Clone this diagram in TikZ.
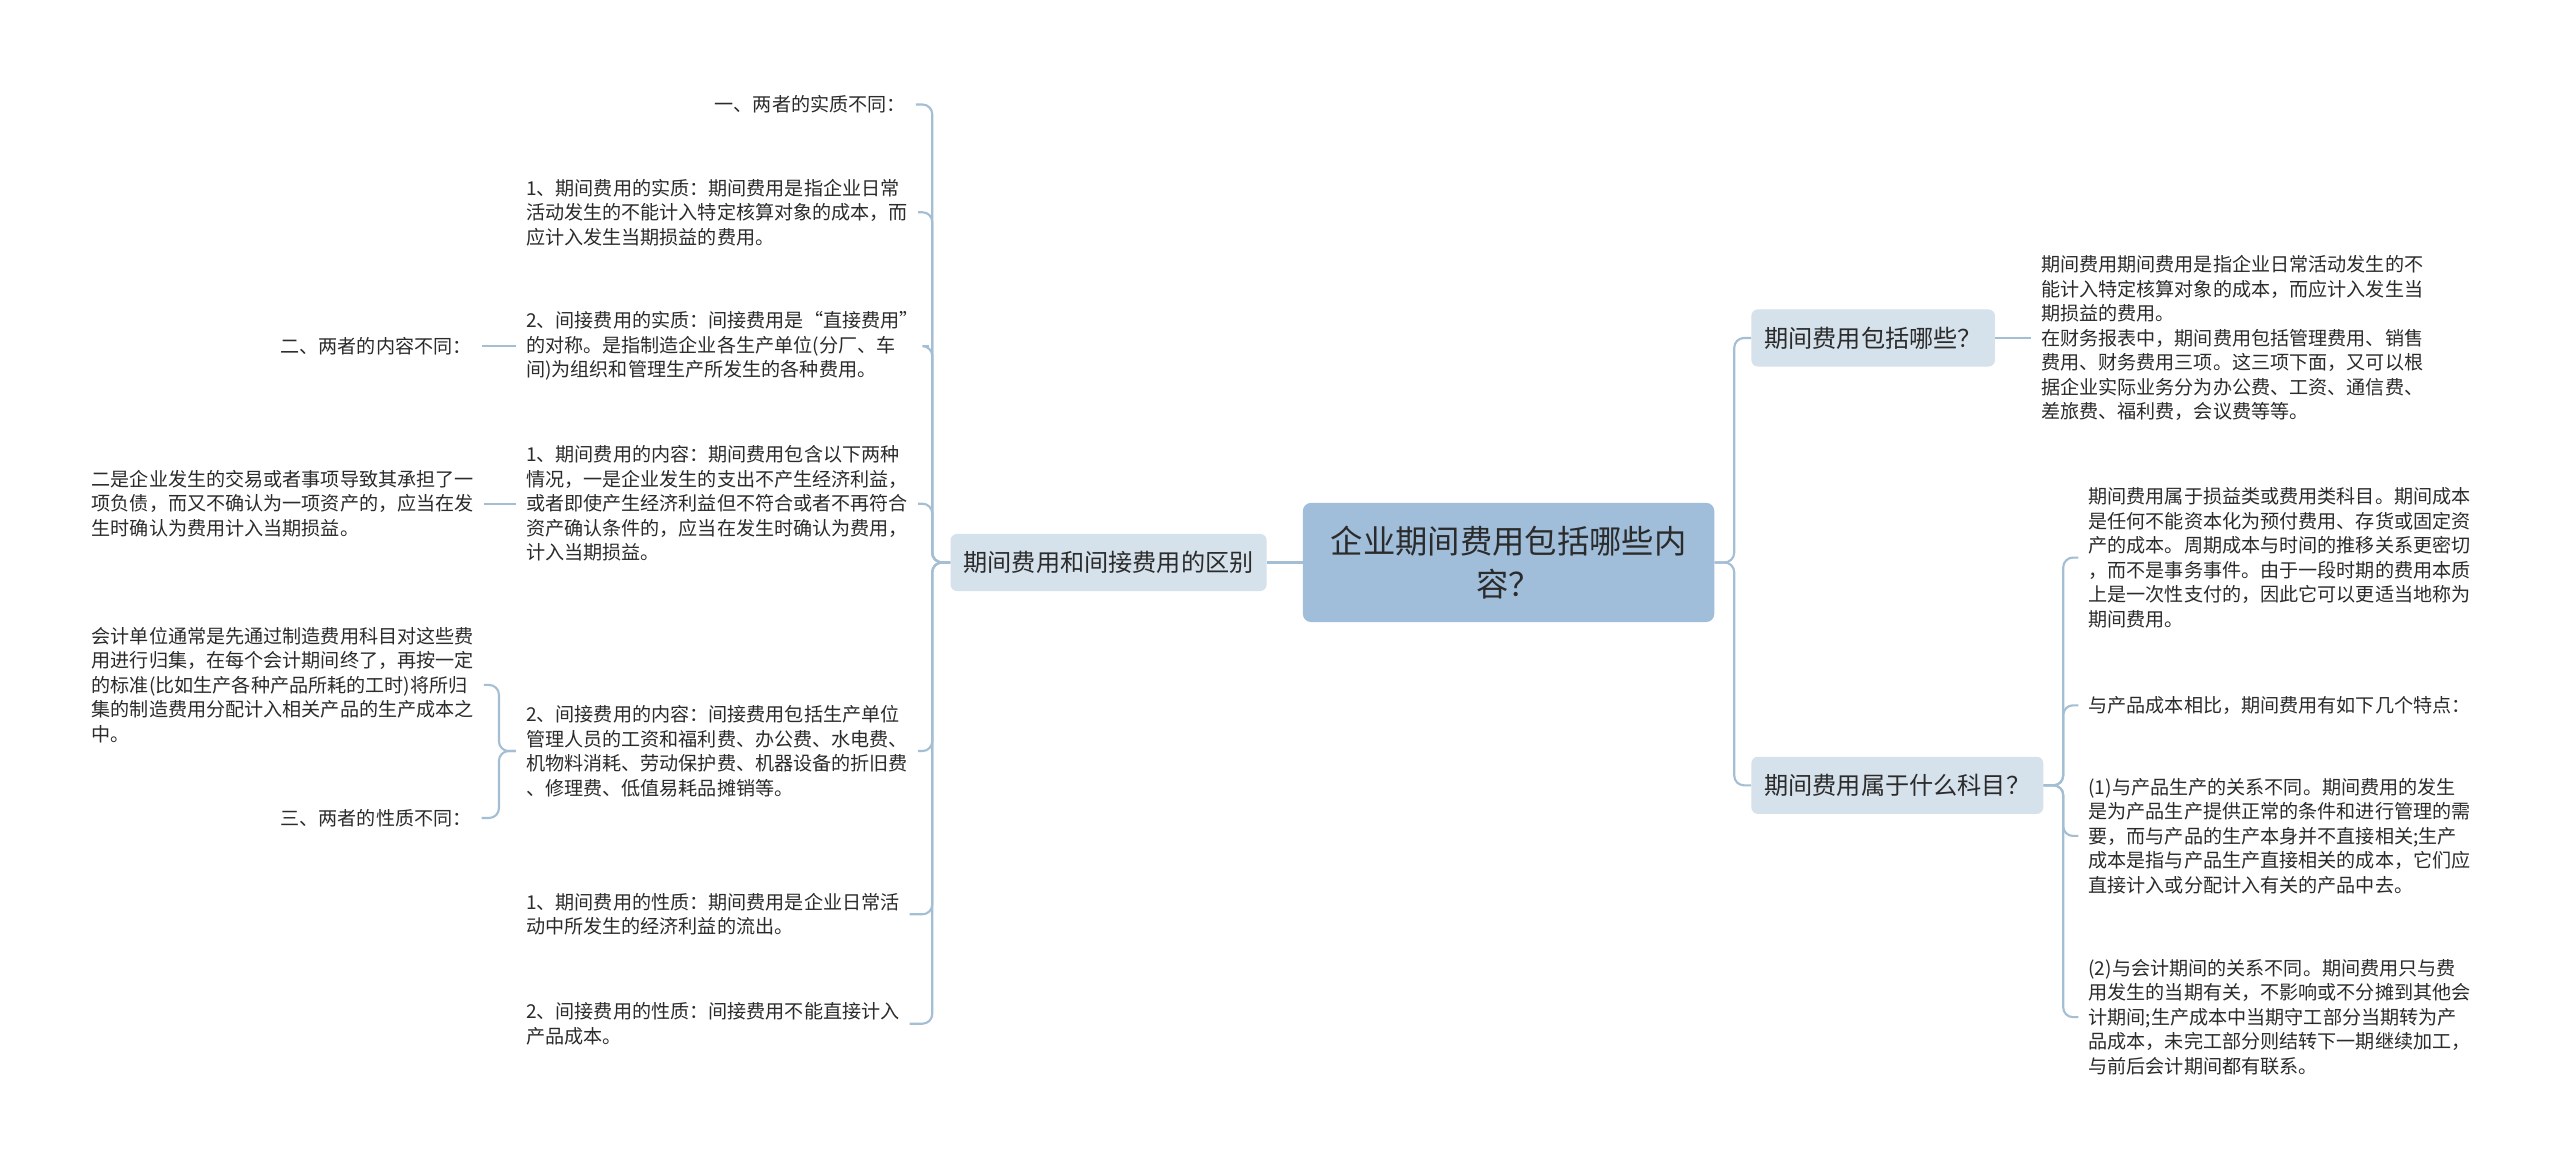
\documentclass[tikz,border=0pt]{standalone}
\usepackage{fontspec}
\setmainfont{Noto Sans CJK SC}
\definecolor{rootblue}{HTML}{A0BEDA}
\definecolor{subblue}{HTML}{D5E1EB}
\definecolor{linkblue}{HTML}{A4BED4}
\definecolor{ink}{HTML}{2B2B2B}
\tikzstyle{root} = [fill=rootblue, rounded corners=5pt, minimum width=252pt, minimum height=73pt, align=center, text=ink, font=\fontsize{19.8}{26}\selectfont]
\tikzstyle{topic} = [fill=subblue, rounded corners=4pt, inner xsep=8pt, inner ysep=0pt, minimum height=35pt, text=ink, font=\fontsize{14.8}{18}\selectfont]
\tikzstyle{leaf} = [inner xsep=6pt, inner ysep=0pt, align=left, text=ink, font=\fontsize{11.7}{15}\selectfont]
\tikzstyle{link} = [draw=linkblue, line width=1.3pt, rounded corners=6pt]

\begin{document}
\begin{tikzpicture}[x=1pt, y=-1pt]
    \fill[white] (0,0) rectangle (1568,716);
    \useasboundingbox (0,0) rectangle (1568,716);

    \node[root] (root) at (924,344.5) {企业期间费用包括哪些内\\容？};
    \node[topic] (diff) at (679,344.5) {期间费用和间接费用的区别};
    \node[topic, anchor=west] (incl) at (1072.5,207) {期间费用包括哪些？};
    \node[topic, anchor=west] (subj) at (1072.5,481) {期间费用属于什么科目？};

    % left side
    \node[leaf, anchor=east] (d0) at (561,64) {一、两者的实质不同：};
    \node[leaf, anchor=west] (d1) at (316,130) {1、期间费用的实质：期间费用是指企业日常\\活动发生的不能计入特定核算对象的成本，而\\应计入发生当期损益的费用。};
    \node[leaf, anchor=west] (d2) at (316,212) {2、间接费用的实质：间接费用是“直接费用”\\的对称。是指制造企业各生产单位(分厂、车\\间)为组织和管理生产所发生的各种费用。};
    \node[leaf, anchor=west] (d3) at (316,308.5) {1、期间费用的内容：期间费用包含以下两种\\情况，一是企业发生的支出不产生经济利益，\\或者即使产生经济利益但不符合或者不再符合\\资产确认条件的，应当在发生时确认为费用，\\计入当期损益。};
    \node[leaf, anchor=west] (d4) at (316,460) {2、间接费用的内容：间接费用包括生产单位\\管理人员的工资和福利费、办公费、水电费、\\机物料消耗、劳动保护费、机器设备的折旧费\\、修理费、低值易耗品摊销等。};
    \node[leaf, anchor=west] (d5) at (316,560) {1、期间费用的性质：期间费用是企业日常活\\动中所发生的经济利益的流出。};
    \node[leaf, anchor=west] (d6) at (316,627) {2、间接费用的性质：间接费用不能直接计入\\产品成本。};
    \node[leaf, anchor=east] (d2a) at (295,212) {二、两者的内容不同：};
    \node[leaf, anchor=west] (d3a) at (50,308.5) {二是企业发生的交易或者事项导致其承担了一\\项负债，而又不确认为一项资产的，应当在发\\生时确认为费用计入当期损益。};
    \node[leaf, anchor=west] (d4a) at (50,419.5) {会计单位通常是先通过制造费用科目对这些费\\用进行归集，在每个会计期间终了，再按一定\\的标准(比如生产各种产品所耗的工时)将所归\\集的制造费用分配计入相关产品的生产成本之\\中。};
    \node[leaf, anchor=east] (d4b) at (295,501) {三、两者的性质不同：};

    % right side
    \node[leaf, anchor=west] (i1) at (1244,207) {期间费用期间费用是指企业日常活动发生的不\\能计入特定核算对象的成本，而应计入发生当\\期损益的费用。\\在财务报表中，期间费用包括管理费用、销售\\费用、财务费用三项。这三项下面，又可以根\\据企业实际业务分为办公费、工资、通信费、\\差旅费、福利费，会议费等等。};
    \node[leaf, anchor=west] (s1) at (1273,341.5) {期间费用属于损益类或费用类科目。期间成本\\是任何不能资本化为预付费用、存货或固定资\\产的成本。周期成本与时间的推移关系更密切\\，而不是事务事件。由于一段时期的费用本质\\上是一次性支付的，因此它可以更适当地称为\\期间费用。};
    \node[leaf, anchor=west] (s2) at (1273,432) {与产品成本相比，期间费用有如下几个特点：};
    \node[leaf, anchor=west] (s3) at (1273,512) {(1)与产品生产的关系不同。期间费用的发生\\是为产品生产提供正常的条件和进行管理的需\\要，而与产品的生产本身并不直接相关;生产\\成本是指与产品生产直接相关的成本，它们应\\直接计入或分配计入有关的产品中去。};
    \node[leaf, anchor=west] (s4) at (1273,623) {(2)与会计期间的关系不同。期间费用只与费\\用发生的当期有关，不影响或不分摊到其他会\\计期间;生产成本中当期守工部分当期转为产\\品成本，未完工部分则结转下一期继续加工，\\与前后会计期间都有联系。};

    % connectors
    \draw[link] (root.west) -- (diff.east);
    \foreach \n in {d0,d1,d2,d3,d4,d5,d6}
        \draw[link] (diff.west) -- ++(-11,0) |- (\n.east);
    \draw[link] (d2.west) -- (d2a.east);
    \draw[link] (d3.west) -- (d3a.east);
    \foreach \n in {d4a,d4b}
        \draw[link] (d4.west) -- ++(-10.4,0) |- (\n.east);
    \foreach \n in {incl,subj}
        \draw[link] (root.east) -- ++(12,0) |- (\n.west);
    \draw[link] (incl.east) -- (i1.west);
    \foreach \n in {s1,s2,s3,s4}
        \draw[link] (subj.east) -- ++(12,0) |- (\n.west);
\end{tikzpicture}
\end{document}
